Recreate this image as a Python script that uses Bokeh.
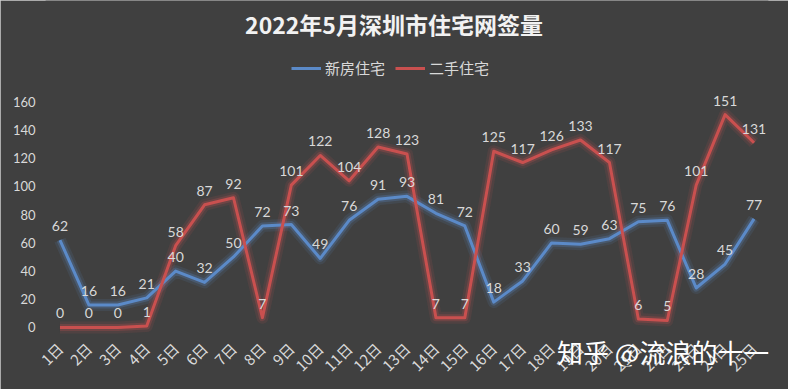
import math
from bokeh.plotting import figure
from bokeh.models import ColumnDataSource, FactorRange, Range1d, FixedTicker, Label, Legend, LegendItem
from bokeh.core.properties import value
from bokeh.embed import file_html
from bokeh.resources import INLINE

days = [f"{i}日" for i in range(1, 26)]
new_homes = [62, 16, 16, 21, 40, 32, 50, 72, 73, 49, 76, 91, 93, 81, 72, 18, 33, 60, 59, 63, 75, 76, 28, 45, 77]
resale = [0, 0, 0, 1, 58, 87, 92, 7, 101, 122, 104, 128, 123, 7, 7, 125, 117, 126, 133, 117, 6, 5, 101, 151, 131]
y_ticks = [0, 20, 40, 60, 80, 100, 120, 140, 160]
title_text = "2022年5月深圳市住宅网签量"
series_names = ["新房住宅", "二手住宅"]
watermark = "知乎 @流浪的十一"

BG = "#404040"
BLUE = "#5b8ac8"
RED = "#c9504f"
TXT = "#d9d9d9"

src_new = ColumnDataSource(dict(x=days, y=new_homes, t=[str(v) for v in new_homes]))
src_old = ColumnDataSource(dict(x=days, y=resale, t=[str(v) for v in resale]))

p = figure(width=788, height=389, x_range=FactorRange(*days), y_range=Range1d(-27.66, 231.9),
           output_backend="svg", toolbar_location=None,
           min_border_left=45, min_border_right=20, min_border_top=0, min_border_bottom=23,
           background_fill_color=BG, border_fill_color=BG)
p.styles = {"background-color": BG, "outline": "1px solid #cfcfcf", "outline-offset": "-1px"}
p.outline_line_color = None
p.grid.visible = False

# axes
p.yaxis.ticker = FixedTicker(ticks=y_ticks)
p.yaxis.axis_line_color = None
p.yaxis.major_tick_line_color = None
p.yaxis.minor_tick_line_color = None
p.yaxis.major_tick_out = 0
p.yaxis.major_tick_in = 0
p.yaxis.major_label_text_color = TXT
p.yaxis.major_label_text_font = "Lato"
p.yaxis.major_label_text_font_size = "13px"
p.yaxis.major_label_standoff = 10

p.xaxis.axis_line_color = None
p.xaxis.major_tick_line_color = None
p.xaxis.major_tick_out = 0
p.xaxis.major_tick_in = 0
p.xaxis.axis_label_standoff = 0
p.xaxis.major_label_text_color = TXT
p.xaxis.major_label_text_font = "Noto Sans CJK SC"
p.xaxis.major_label_text_font_size = "15px"
p.xaxis.major_label_orientation = math.pi / 4
p.xaxis.major_label_standoff = -21

# glow + lines
for src, col in ((src_new, BLUE), (src_old, RED)):
    p.line("x", "y", source=src, line_color=col, line_width=12, line_alpha=0.12, line_join="round")
    p.line("x", "y", source=src, line_color=col, line_width=7, line_alpha=0.25, line_join="round")

r_new = p.line("x", "y", source=src_new, line_color=BLUE, line_width=3, line_join="round")
r_old = p.line("x", "y", source=src_old, line_color=RED, line_width=3, line_join="round")

for src in (src_new, src_old):
    p.text("x", "y", text="t", source=src, text_color=TXT, text_font=value("Lato"),
           text_font_size="14px", text_align="center", text_baseline="alphabetic", y_offset=-14)

legend = Legend(items=[LegendItem(label=series_names[0], renderers=[r_new]),
                       LegendItem(label=series_names[1], renderers=[r_old])],
                orientation="horizontal", location=(246, 288), padding=0, margin=0,
                spacing=10, glyph_width=30, glyph_height=20, label_standoff=4,
                label_text_color=TXT, label_text_font="Noto Sans CJK SC", label_text_font_size="15px",
                background_fill_alpha=0, border_line_color=None)
p.add_layout(legend, "center")

p.add_layout(Label(x=348.5, y=343, x_units="screen", y_units="screen", text=title_text,
                   text_align="center", text_baseline="middle", text_color="#f2f2f2",
                   text_font="Noto Sans CJK SC", text_font_size="23px", text_font_style="bold"))
p.add_layout(Label(x=511.5, y=15, x_units="screen", y_units="screen", text=watermark,
                   text_align="left", text_baseline="middle", text_color="#ffffff",
                   text_font="Noto Sans CJK SC", text_font_size="26px"))

open("out.html", "w").write(file_html(p, INLINE))
